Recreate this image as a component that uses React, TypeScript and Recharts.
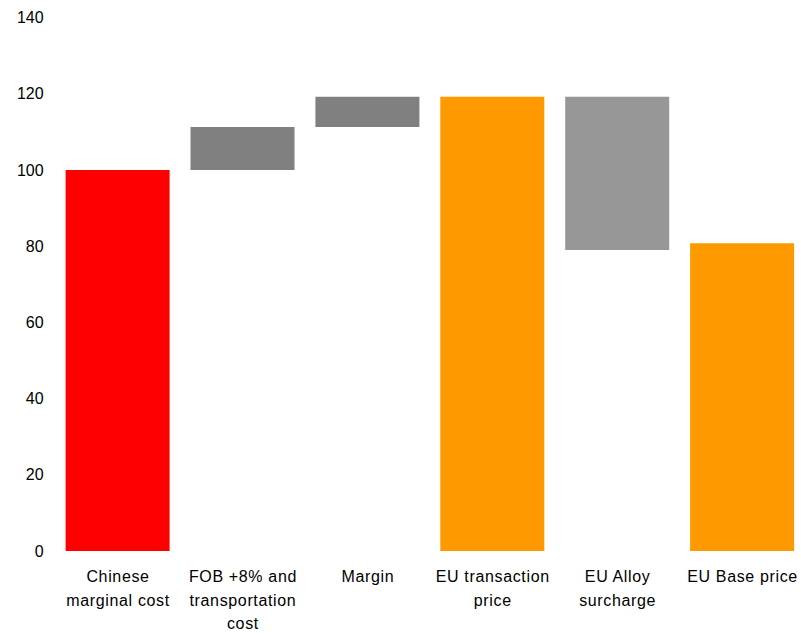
import React from "react";
import { BarChart, Bar, XAxis, YAxis, Cell } from "recharts";

const categories = [
  "Chinese|marginal cost",
  "FOB +8% and|transportation|cost",
  "Margin",
  "EU transaction|price",
  "EU Alloy|surcharge",
  "EU Base price",
];
const baseValues = [0, 100, 111.3, 0, 79, 0];
const barValues = [100, 11.3, 7.9, 119.2, 40.2, 80.8];
const barColors = ["#FF0000", "#808080", "#808080", "#FF9900", "#979797", "#FF9900"];
const yTicks = [0, 20, 40, 60, 80, 100, 120, 140];

const data = categories.map((c, i) => ({
  name: c,
  base: baseValues[i],
  value: barValues[i],
}));

const FONT = "'Liberation Sans', Arial, sans-serif";

const CategoryTick = (props: any) => {
  const { x, y, payload } = props;
  const lines = String(payload.value).split("|");
  return (
    <g>
      {lines.map((l: string, i: number) => (
        <text
          key={i}
          x={x}
          y={y + 31 + i * 23.5}
          textAnchor="middle"
          fontFamily={FONT}
          fontSize={16}
          letterSpacing={0.65}
          fill="#000"
        >
          {l}
        </text>
      ))}
    </g>
  );
};

export default function App() {
  return (
    <div
      style={{
        position: "absolute",
        left: 0,
        top: 0,
        width: 801,
        height: 635,
        overflow: "hidden",
        background: "#fff",
      }}
    >
      <BarChart
        width={805}
        height={635}
        data={data}
        margin={{ top: 17.6, right: 0, bottom: 0, left: 0 }}
        barSize={104}
      >
        <XAxis
          dataKey="name"
          axisLine={false}
          tickLine={false}
          tickSize={0}
          tickMargin={0}
          height={84}
          interval={0}
          tick={<CategoryTick />}
        />
        <YAxis
          domain={[0, 140]}
          ticks={yTicks}
          axisLine={false}
          tickLine={false}
          tickSize={0}
          tickMargin={12}
          width={55.6}
          tick={{ fontFamily: FONT, fontSize: 16, fill: "#000" }}
        />
        <Bar dataKey="base" stackId="a" fill="transparent" isAnimationActive={false} />
        <Bar dataKey="value" stackId="a" isAnimationActive={false}>
          {data.map((d, i) => (
            <Cell key={i} fill={barColors[i]} />
          ))}
        </Bar>
      </BarChart>
    </div>
  );
}
